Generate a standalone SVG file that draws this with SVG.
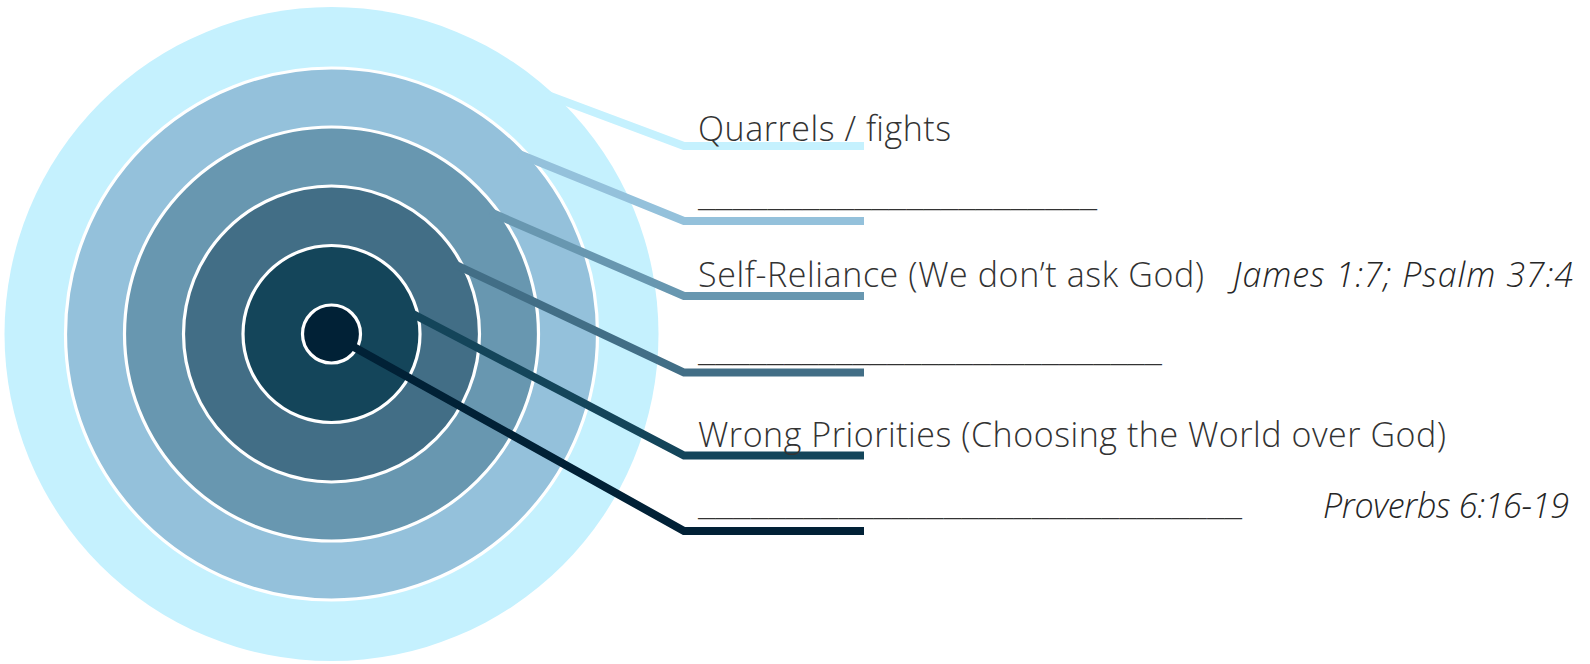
<svg xmlns="http://www.w3.org/2000/svg" width="1590" height="664" viewBox="0 0 1590 664">
  <style>
    .ring { stroke: #ffffff; stroke-width: 3.2; }
    .conn { fill: none; stroke-width: 8; stroke-linejoin: miter; stroke-linecap: butt; }
    .lbl { font-family: "Open Sans", "Liberation Sans", sans-serif; font-weight: 300; font-size: 34px; fill: #333333; }
    .ref { font-family: "Open Sans", "Liberation Sans", sans-serif; font-weight: 300; font-style: italic; font-size: 34px; fill: #262626; }
    .blank { font-family: "Open Sans", "Liberation Sans", sans-serif; font-weight: 300; font-size: 34px; fill: #333333; }
  </style>
  <rect width="1590" height="664" fill="#ffffff"/>
  <g id="target">
    <circle id="ring1" cx="331.5" cy="334" r="327" fill="#C5F1FE"/>
    <circle id="ring2" class="ring" cx="331.5" cy="334" r="266" fill="#94C1DB"/>
    <circle id="ring3" class="ring" cx="331.5" cy="334" r="207" fill="#6897B0"/>
    <circle id="ring4" class="ring" cx="331.5" cy="334" r="148" fill="#426E86"/>
    <circle id="ring5" class="ring" cx="331.5" cy="334" r="88.5" fill="#14455A"/>
    <circle id="ring6" class="ring" cx="331.5" cy="334" r="29" fill="#012136"/>
  </g>
  <g id="connectors">
    <polyline class="conn" stroke="#C5F1FE" points="545,94 684,146 864,146"/>
    <polyline class="conn" stroke="#94C1DB" points="519,154 684,221 864,221"/>
    <polyline class="conn" stroke="#6897B0" points="490,212 684,296 864,296"/>
    <polyline class="conn" stroke="#426E86" points="454,264 684,372.5 864,372.5"/>
    <polyline class="conn" stroke="#14455A" points="413,314 684,455.5 864,455.5"/>
    <polyline class="conn" stroke="#012136" points="352,346 684,531 864,531"/>
  </g>
  <g id="label1">
    <text class="lbl" x="698" y="140.7" textLength="253">Quarrels / fights</text>
  </g>
  <g id="label2">
    <text class="blank" x="698" y="206" textLength="399" lengthAdjust="spacingAndGlyphs">_______________________</text>
  </g>
  <g id="label3">
    <text class="lbl" x="698" y="287" textLength="506">Self-Reliance (We don’t ask God)</text>
    <text class="ref" x="1233" y="287" textLength="340">James 1:7; Psalm 37:4</text>
  </g>
  <g id="label4">
    <text class="blank" x="698" y="361" textLength="464" lengthAdjust="spacingAndGlyphs">___________________________</text>
  </g>
  <g id="label5">
    <text class="lbl" x="698" y="446.7" textLength="748">Wrong Priorities (Choosing the World over God)</text>
  </g>
  <g id="label6">
    <text class="blank" x="698" y="514.5" textLength="544" lengthAdjust="spacingAndGlyphs">_______________________________</text>
    <text class="ref" x="1323" y="518.3" textLength="246">Proverbs 6:16-19</text>
  </g>
</svg>
